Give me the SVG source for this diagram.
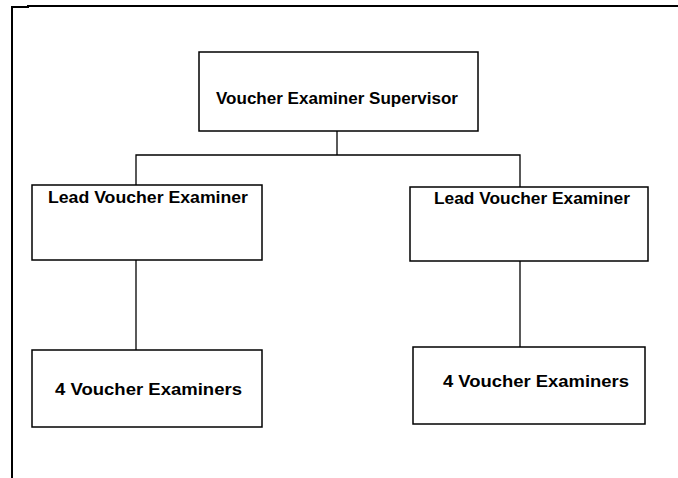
<svg xmlns="http://www.w3.org/2000/svg" width="678" height="478" viewBox="0 0 678 478">
<style>
.box{fill:#fff;stroke:#000;stroke-width:1.5}
.lbl{font-family:"Liberation Sans",Arial,sans-serif;font-size:16px;font-weight:bold;fill:#000}
.ln{stroke:#000;stroke-width:1.3;fill:none}
.frame{stroke:#000;stroke-width:2;fill:none}
</style>
<rect width="678" height="478" fill="#fff"/>
<path class="frame" d="M12,478 V7 H28 V6 H678"/>
<g id="connectors">
<path class="ln" d="M337,131 V155"/>
<path class="ln" d="M136,185 V155 H520 V187"/>
<path class="ln" d="M136,260 V350"/>
<path class="ln" d="M520,261 V347"/>
</g>
<g id="supervisor">
<rect class="box" x="199" y="52" width="279" height="79"/>
<text class="lbl" x="216" y="104" textLength="242" lengthAdjust="spacingAndGlyphs">Voucher Examiner Supervisor</text>
</g>
<g id="lead-left">
<rect class="box" x="32" y="185" width="230" height="75"/>
<text class="lbl" x="48" y="203" textLength="200" lengthAdjust="spacingAndGlyphs">Lead Voucher Examiner</text>
</g>
<g id="lead-right">
<rect class="box" x="410" y="187" width="238" height="74"/>
<text class="lbl" x="434" y="204" textLength="196" lengthAdjust="spacingAndGlyphs">Lead Voucher Examiner</text>
</g>
<g id="examiners-left">
<rect class="box" x="32" y="350" width="230" height="77"/>
<text class="lbl" x="55" y="395" textLength="187" lengthAdjust="spacingAndGlyphs">4 Voucher Examiners</text>
</g>
<g id="examiners-right">
<rect class="box" x="413" y="347" width="232" height="77"/>
<text class="lbl" x="443" y="387" textLength="186" lengthAdjust="spacingAndGlyphs">4 Voucher Examiners</text>
</g>
</svg>
